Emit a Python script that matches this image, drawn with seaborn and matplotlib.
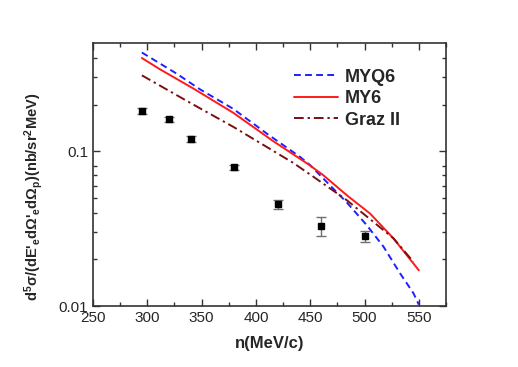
import numpy as np
import pandas as pd
import matplotlib
matplotlib.use("Agg")
import matplotlib.pyplot as plt
import matplotlib.ticker as mticker
import seaborn as sns

# Experimental data
exp_p = [295, 320, 340, 380, 420, 460, 500]
exp_val = [0.182, 0.161, 0.120, 0.079, 0.0453, 0.033, 0.0283]
exp_err = [0.008, 0.006, 0.005, 0.003, 0.0028, 0.0045, 0.0022]

# Theory curves
myq6_p = [295, 327, 348.5, 379, 410, 440.6, 450, 483.6, 502, 517.4, 532.7, 545, 550]
myq6_v = [0.434, 0.317, 0.251, 0.188, 0.130, 0.0919, 0.0812, 0.0467, 0.0333, 0.0242, 0.01626, 0.0121, 0.0102]

my6_p = [295, 311.7, 342.4, 379.2, 416, 448.2, 462, 483.6, 505, 526.5, 550]
my6_v = [0.400, 0.338, 0.254, 0.177, 0.116, 0.0824, 0.070, 0.052, 0.0396, 0.0274, 0.0170]

graz_p = [295, 311.7, 342.4, 379.2, 434.4, 452.9, 483.6, 508, 526.5, 545]
graz_v = [0.309, 0.265, 0.200, 0.1436, 0.0840, 0.0684, 0.0483, 0.035, 0.0274, 0.0193]

series_names = ["MYQ6", "MY6", "Graz II"]

sns.set_style("ticks")
plt.rcParams["font.family"] = ["Liberation Sans", "DejaVu Sans"]
plt.rcParams["mathtext.default"] = "regular"

fig = plt.figure(figsize=(5.18, 3.67), dpi=100)
ax = fig.add_axes([93/518, 1-306/367, (446-93)/518, (306-43)/367])

df = pd.concat([
    pd.DataFrame({"p": myq6_p, "v": myq6_v, "model": series_names[0]}),
    pd.DataFrame({"p": my6_p, "v": my6_v, "model": series_names[1]}),
    pd.DataFrame({"p": graz_p, "v": graz_v, "model": series_names[2]}),
])

palette = {"MYQ6": "#1f1fff", "MY6": "#ff1a1a", "Graz II": "#7a0f0f"}
dashes = {"MYQ6": (3.5, 2.2), "MY6": "", "Graz II": (5, 2, 1.2, 2)}
sns.lineplot(data=df, x="p", y="v", hue="model", style="model",
             palette=palette, dashes=dashes, linewidth=1.4, ax=ax,
             sort=False, estimator=None)

ax.errorbar(exp_p, exp_val, yerr=exp_err, fmt="s", color="black",
            ecolor="#707070", elinewidth=1.0, capsize=3.5, capthick=1.0,
            markersize=4.8, zorder=5)

ax.set_yscale("log")
ax.set_xlim(250, 575)
ax.set_ylim(0.01, 0.5)
ax.xaxis.set_major_locator(mticker.MultipleLocator(50))
ax.xaxis.set_minor_locator(mticker.MultipleLocator(25))
ax.yaxis.set_major_locator(mticker.FixedLocator([0.01, 0.1]))
ax.yaxis.set_major_formatter(mticker.FixedFormatter(["0.01", "0.1"]))
ax.yaxis.set_minor_locator(mticker.FixedLocator(
    [0.02, 0.03, 0.04, 0.05, 0.06, 0.07, 0.08, 0.2, 0.3, 0.4]))
ax.yaxis.set_minor_formatter(mticker.NullFormatter())

ax.tick_params(which="both", direction="in", top=True, right=True,
               labelsize=11, color="#333333", width=1.0)
ax.tick_params(which="major", length=5)
ax.tick_params(which="minor", length=3)
for s in ax.spines.values():
    s.set_linewidth(1.2)
    s.set_color("#333333")

ax.set_xlabel("n(MeV/c)", fontsize=12, fontweight="bold", labelpad=8)
ax.set_ylabel("d$^5$σ/(dE'$_e$dΩ'$_e$dΩ$_p$)(nb/sr$^2$MeV)",
              fontsize=10.5, fontweight="bold")
ax.yaxis.set_label_coords(-0.136, 0.416)

leg = ax.legend(loc="upper right", bbox_to_anchor=(0.89, 0.93), frameon=False,
                prop={"weight": "bold", "size": 13}, handlelength=2.4,
                handletextpad=0.4, labelspacing=0.25, borderaxespad=0)

fig.savefig("out.png", dpi=100)
